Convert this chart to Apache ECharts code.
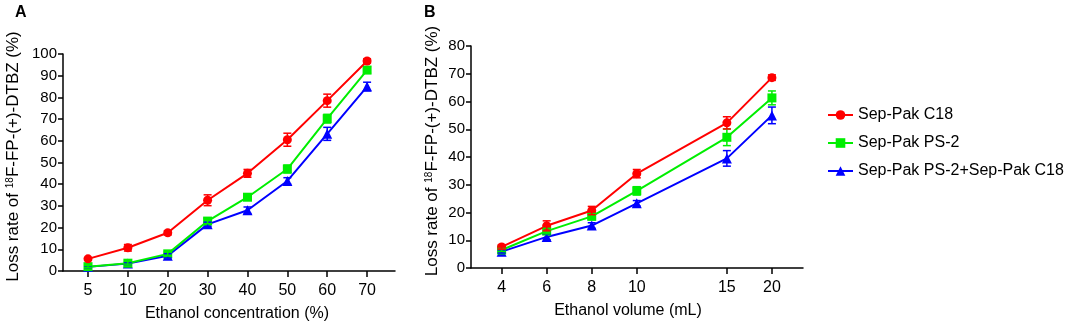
<!DOCTYPE html>
<html>
<head>
<meta charset="utf-8">
<script src="https://cdn.jsdelivr.net/npm/echarts/dist/echarts.min.js"></script>
<style>
  html, body { margin: 0; padding: 0; background: #fff; }
  #chart { width: 1084px; height: 327px; }
</style>
</head>
<body>
<div id="chart"></div>
<script>
// panel A: ethanol concentration (%)
const concLabels = ['5', '10', '20', '30', '40', '50', '60', '70']
const concC18 = [5.6, 10.7, 17.6, 32.6, 45.0, 60.5, 78.5, 96.8]
const concC18Err = [0.6, 1.5, 1.0, 2.5, 1.8, 3.0, 3.0, 1.0]
const concPS2 = [2.0, 3.6, 7.9, 23.0, 34.0, 47.0, 70.2, 92.6]
const concPS2Err = [0.5, 0.8, 1.0, 1.2, 1.2, 1.8, 2.0, 1.5]
const concBoth = [1.9, 3.4, 7.0, 21.5, 28.0, 41.5, 63.2, 85.0]
const concBothErr = [0.4, 0.5, 1.0, 1.0, 1.5, 1.5, 3.0, 2.0]

// panel B: ethanol volume (mL), 15 sits one extra step after 10
const volLabels = ['4', '6', '8', '10', '15', '20']
const volPos = [0, 1, 2, 3, 5, 6]
const volC18 = [7.6, 15.2, 20.7, 34.0, 52.3, 68.6]
const volC18Err = [0.8, 1.8, 1.5, 1.5, 2.2, 1.0]
const volPS2 = [6.5, 13.3, 18.6, 27.8, 47.1, 61.3]
const volPS2Err = [0.5, 1.0, 1.0, 1.5, 3.0, 2.5]
const volBoth = [5.9, 11.2, 15.3, 23.3, 39.5, 55.0]
const volBothErr = [0.5, 1.0, 1.0, 1.0, 2.8, 3.0]

const seriesNames = ['Sep-Pak C18', 'Sep-Pak PS-2', 'Sep-Pak PS-2+Sep-Pak C18']
const colors = ['#ff0000', '#00ee00', '#0000ff']
const symbols = ['circle', 'rect', 'triangle']

const FONT = 'Liberation Sans, Arial, sans-serif'
const concPos = concLabels.map((d, i) => i)

function pairs(xs, ys, errs) {
    return xs.map((x, i) => [x, ys[i], errs[i]])
}

function errBar(color) {
    return function (params, api) {
        const x = api.value(0)
        const y = api.value(1)
        const e = api.value(2)
        const top = api.coord([x, y + e])
        const bot = api.coord([x, y - e])
        const w = 4
        const style = { stroke: color, lineWidth: 1.5 }
        return {
            type: 'group',
            children: [
                { type: 'line', shape: { x1: top[0], y1: top[1], x2: bot[0], y2: bot[1] }, style },
                { type: 'line', shape: { x1: top[0] - w, y1: top[1], x2: top[0] + w, y2: top[1] }, style },
                { type: 'line', shape: { x1: bot[0] - w, y1: bot[1], x2: bot[0] + w, y2: bot[1] }, style }
            ]
        }
    }
}

const yName = 'Loss rate of {sup|18}F-FP-(+)-DTBZ (%)'

function yAxisOf(idx, max, gap) {
    return {
        type: 'value', gridIndex: idx, min: 0, max: max, interval: 10,
        name: yName, nameLocation: 'middle', nameGap: gap, nameRotate: 90,
        nameTextStyle: {
            fontFamily: FONT, fontSize: 17, color: '#000', padding: [0, 0, 0, 12],
            rich: { sup: { fontSize: 10, verticalAlign: 'top', fontFamily: FONT, color: '#000' } }
        },
        axisLine: { show: true, onZero: false, lineStyle: { color: '#000', width: 1.5 } },
        axisTick: { show: true, length: 5, lineStyle: { color: '#000', width: 1.5 } },
        axisLabel: { fontFamily: FONT, fontSize: 15, color: '#000', margin: 6 },
        splitLine: { show: false }
    }
}

function xAxisOf(idx, min, max, ticks, labels, positions, name, pad) {
    return {
        type: 'value', gridIndex: idx, min: min, max: max,
        name: name, nameLocation: 'middle', nameGap: 35,
        nameTextStyle: { fontFamily: FONT, fontSize: 16, color: '#000', padding: pad },
        axisLine: { show: true, onZero: false, lineStyle: { color: '#000', width: 1.5 } },
        axisTick: { show: true, length: 6, customValues: ticks, lineStyle: { color: '#000', width: 1.5 } },
        axisLabel: {
            fontFamily: FONT, fontSize: 16, color: '#000', margin: 12,
            customValues: ticks,
            formatter: v => labels[positions.indexOf(Math.round(v))]
        },
        splitLine: { show: false }
    }
}

const groups = [
    { xs: concPos, ys: [concC18, concPS2, concBoth], errs: [concC18Err, concPS2Err, concBothErr] },
    { xs: volPos, ys: [volC18, volPS2, volBoth], errs: [volC18Err, volPS2Err, volBothErr] }
]

let series = []
groups.forEach((g, gi) => {
    // draw blue first so red ends on top
    for (let k = 2; k >= 0; k--) {
        series.push({
            name: seriesNames[k], type: 'line',
            xAxisIndex: gi, yAxisIndex: gi,
            data: g.xs.map((x, i) => [x, g.ys[k][i]]),
            symbol: symbols[k], symbolSize: k === 2 ? 10 : 9,
            lineStyle: { color: colors[k], width: 2 },
            itemStyle: { color: colors[k] },
            z: 2 + (2 - k)
        })
        series.push({
            name: 'err' + gi + k, type: 'custom',
            xAxisIndex: gi, yAxisIndex: gi,
            data: pairs(g.xs, g.ys[k], g.errs[k]),
            encode: { x: 0, y: 1 },
            renderItem: errBar(colors[k]),
            z: 6
        })
    }
})

let option = {
    animation: false,
    backgroundColor: '#fff',
    title: [
        { text: 'A', left: 10, top: 0, textStyle: { fontFamily: FONT, fontSize: 16, fontWeight: 'bold', color: '#000' } },
        { text: 'B', left: 419, top: 0, textStyle: { fontFamily: FONT, fontSize: 16, fontWeight: 'bold', color: '#000' } }
    ],
    legend: {
        data: seriesNames,
        orient: 'vertical', left: 822, top: 102,
        itemWidth: 25, itemHeight: 12, itemGap: 12,
        textStyle: { fontFamily: FONT, fontSize: 16, color: '#000' }
    },
    grid: [
        { left: 63, top: 54, width: 332, height: 217, containLabel: false, outerBoundsMode: 'none' },
        { left: 471, top: 46, width: 332, height: 222, containLabel: false, outerBoundsMode: 'none' }
    ],
    xAxis: [
        xAxisOf(0, -0.627, 7.7, concPos, concLabels, concPos, 'Ethanol concentration (%)', [0, 0, 0, 16]),
        xAxisOf(1, -0.68, 6.69, volPos, volLabels, volPos, 'Ethanol volume (mL)', [0, 18, 0, 0])
    ],
    yAxis: [yAxisOf(0, 100, 41), yAxisOf(1, 80, 30)],
    series: series
}

let chart = echarts.init(document.getElementById('chart'))
chart.setOption(option)
</script>
</body>
</html>
